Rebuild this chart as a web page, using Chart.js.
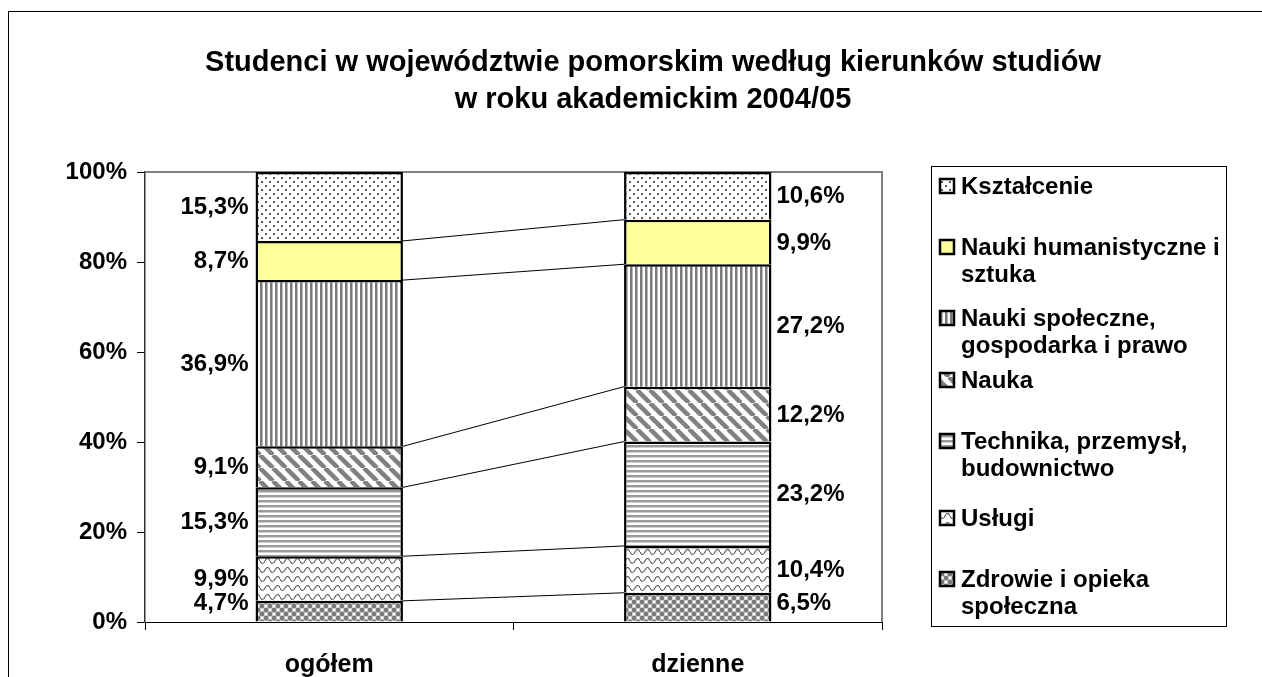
<!DOCTYPE html>
<html><head><meta charset="utf-8">
<script src="https://cdn.jsdelivr.net/npm/chart.js@4/dist/chart.umd.min.js"></script>
<style>
html,body{margin:0;padding:0;background:#fff;overflow:hidden}
#wrap{position:relative;width:1262px;height:677px}
#frame{position:absolute;left:8px;top:11px;width:1300px;height:700px;border:1px solid #000;box-sizing:border-box}
canvas{position:absolute;left:0;top:0}
</style></head><body>
<div id="wrap"><div id="frame"></div><canvas id="c" width="1262" height="677"></canvas></div>
<script>
// ---- data ----
const categories = ['ogółem', 'dzienne'];
const seriesNames = ['Zdrowie i opieka społeczna', 'Usługi', 'Technika, przemysł, budownictwo', 'Nauka',
  'Nauki społeczne, gospodarka i prawo', 'Nauki humanistyczne i sztuka', 'Kształcenie'];
const zdrowie = [4.7, 6.5];
const uslugi = [9.9, 10.4];
const technika = [15.3, 23.2];
const nauka = [9.1, 12.2];
const naukiSpoleczne = [36.9, 27.2];
const humanistyczne = [8.7, 9.9];
const ksztalcenie = [15.3, 10.6];
const yTicks = [0, 20, 40, 60, 80, 100];
const titleLines = ['Studenci w województwie pomorskim według kierunków studiów', 'w roku akademickim 2004/05'];
// legend text with line breaks (presentation)
const legendText = ['Zdrowie i opieka\nspołeczna', 'Usługi', 'Technika, przemysł,\nbudownictwo', 'Nauka',
  'Nauki społeczne,\ngospodarka i prawo', 'Nauki humanistyczne i\nsztuka', 'Kształcenie'];

// ---- layout (not data) ----
const legendRowY = [186, 247, 318, 380, 441, 518, 579]; // top-to-bottom legend rows
const FONT = '"Liberation Sans", Arial, sans-serif';

const seriesValues = [zdrowie, uslugi, technika, nauka, naukiSpoleczne, humanistyczne, ksztalcenie];
const totals = categories.map((_, j) => seriesValues.reduce((s, arr) => s + arr[j], 0));

const canvas = document.getElementById('c');
const mainCtx = canvas.getContext('2d');

function makePattern(type) {
  const c = document.createElement('canvas');
  const x = c.getContext('2d');
  if (type === 'check') {
    c.width = 8; c.height = 8;
    x.fillStyle = '#d0d0d0'; x.fillRect(0, 0, 8, 8);
    x.fillStyle = '#7a7a7a';
    x.beginPath(); x.arc(2, 2, 2.4, 0, Math.PI * 2); x.fill();
    x.beginPath(); x.arc(6, 6, 2.4, 0, Math.PI * 2); x.fill();
    x.fillStyle = '#ffffff'; x.fillRect(5, 1, 2, 2); x.fillRect(1, 5, 2, 2);
  } else if (type === 'wave') {
    c.width = 10; c.height = 9;
    x.fillStyle = '#fff'; x.fillRect(0, 0, 10, 9);
    x.strokeStyle = '#606060'; x.lineWidth = 1.2;
    x.beginPath();
    x.moveTo(0, 3); x.quadraticCurveTo(2.5, 8, 5, 3); x.quadraticCurveTo(7.5, -2, 10, 3);
    x.stroke();
  } else if (type === 'hstripe') {
    c.width = 4; c.height = 5;
    x.fillStyle = '#fff'; x.fillRect(0, 0, 4, 5);
    x.fillStyle = '#9a9a9a'; x.fillRect(0, 0, 4, 2);
    x.fillStyle = '#d0d0d0'; x.fillRect(0, 2, 4, 1);
  } else if (type === 'diag') {
    c.width = 13; c.height = 13;
    x.fillStyle = '#fff'; x.fillRect(0, 0, 13, 13);
    x.strokeStyle = '#808080'; x.lineWidth = 4.5;
    for (const o of [-13, 0, 13]) { x.beginPath(); x.moveTo(o, 0); x.lineTo(o + 13, 13); x.stroke(); }
  } else if (type === 'vstripe') {
    c.width = 5; c.height = 4;
    x.fillStyle = '#fff'; x.fillRect(0, 0, 5, 4);
    x.fillStyle = '#7a7a7a'; x.fillRect(0, 0, 2, 4);
    x.fillStyle = '#b8b8b8'; x.fillRect(2, 0, 1, 4);
  } else if (type === 'dots') {
    c.width = 8; c.height = 8;
    x.fillStyle = '#fff'; x.fillRect(0, 0, 8, 8);
    x.fillStyle = '#5a5a5a'; x.fillRect(1, 1, 2, 2); x.fillRect(5, 5, 2, 2);
  }
  return mainCtx.createPattern(c, 'repeat');
}
const fills = [makePattern('check'), makePattern('wave'), makePattern('hstripe'), makePattern('diag'),
  makePattern('vstripe'), '#FFFF99', makePattern('dots')];

const datasets = seriesValues.map((vals, i) => ({
  label: seriesNames[i],
  data: vals.map((v, j) => v / totals[j] * 100),
  raw: vals,
  backgroundColor: fills[i],
  borderColor: '#000',
  borderWidth: { top: 2.5, left: 2.5, right: 2.5, bottom: 0 },
  borderSkipped: false,
  inflateAmount: 0,
  categoryPercentage: 1,
  barPercentage: 0.4
}));

const plotFrame = {
  id: 'plotFrame',
  beforeDatasetsDraw(chart) {
    const { ctx, chartArea: a } = chart;
    ctx.save();
    ctx.strokeStyle = '#808080'; ctx.lineWidth = 2;
    ctx.beginPath();
    ctx.moveTo(a.left, a.top); ctx.lineTo(a.right, a.top); ctx.lineTo(a.right, a.bottom);
    ctx.stroke();
    ctx.restore();
  }
};

const seriesLines = {
  id: 'seriesLines',
  afterDatasetsDraw(chart) {
    const ctx = chart.ctx;
    ctx.save();
    ctx.strokeStyle = '#000'; ctx.lineWidth = 1;
    for (let i = 0; i < chart.data.datasets.length - 1; i++) {
      const m = chart.getDatasetMeta(i);
      const a = m.data[0].getProps(['x', 'y', 'width'], true);
      const b = m.data[1].getProps(['x', 'y', 'width'], true);
      ctx.beginPath();
      ctx.moveTo(a.x + a.width / 2, a.y);
      ctx.lineTo(b.x - b.width / 2, b.y);
      ctx.stroke();
    }
    ctx.restore();
  }
};

const dataLabels = {
  id: 'dataLabels',
  afterDatasetsDraw(chart) {
    const ctx = chart.ctx;
    ctx.save();
    ctx.font = 'bold 24px ' + FONT;
    ctx.fillStyle = '#000';
    ctx.textBaseline = 'middle';
    chart.data.datasets.forEach((ds, i) => {
      const m = chart.getDatasetMeta(i);
      m.data.forEach((el, j) => {
        const p = el.getProps(['x', 'y', 'base', 'width'], true);
        let y = (p.y + p.base) / 2;
        y = Math.min(y, chart.chartArea.bottom - 20);
        const txt = ds.raw[j].toFixed(1).replace('.', ',') + '%';
        if (j === 0) { ctx.textAlign = 'right'; ctx.fillText(txt, p.x - p.width / 2 - 7, y + 1); }
        else { ctx.textAlign = 'left'; ctx.fillText(txt, p.x + p.width / 2 + 5, y + 1); }
      });
    });
    ctx.restore();
  }
};

const titlePlugin = {
  id: 'titleText',
  afterDraw(chart) {
    const ctx = chart.ctx;
    ctx.save();
    ctx.font = 'bold 29px ' + FONT;
    ctx.fillStyle = '#000';
    ctx.textAlign = 'center'; ctx.textBaseline = 'middle';
    ctx.fillText(titleLines[0], 653, 63);
    ctx.fillText(titleLines[1], 653, 100);
    ctx.restore();
  }
};

const legendPlugin = {
  id: 'customLegend',
  afterDraw(chart) {
    const ctx = chart.ctx;
    ctx.save();
    ctx.strokeStyle = '#000'; ctx.lineWidth = 1;
    ctx.strokeRect(931.5, 166.5, 295, 460);
    ctx.font = 'bold 24px ' + FONT;
    ctx.textBaseline = 'middle'; ctx.textAlign = 'left';
    const n = chart.data.datasets.length;
    for (let k = 0; k < n; k++) {
      const i = n - 1 - k;
      const y = legendRowY[k];
      ctx.fillStyle = chart.data.datasets[i].backgroundColor;
      ctx.fillRect(940, y - 7, 14, 14);
      ctx.lineWidth = 2.5; ctx.strokeStyle = '#000';
      ctx.strokeRect(940, y - 7, 14, 14);
      ctx.fillStyle = '#000';
      legendText[i].split('\n').forEach((line, li) => ctx.fillText(line, 961, y + 1 + li * 27));
    }
    ctx.restore();
  }
};

new Chart(mainCtx, {
  type: 'bar',
  data: { labels: categories, datasets },
  options: {
    responsive: false,
    animation: false,
    devicePixelRatio: 1,
    layout: { padding: { left: 0, top: 172, right: 380, bottom: 0 } },
    plugins: { legend: { display: false }, title: { display: false }, tooltip: { enabled: false } },
    scales: {
      x: {
        stacked: true,
        offset: true,
        grid: { offset: true, drawOnChartArea: false, drawTicks: true, tickLength: 8, color: '#000' },
        border: { color: '#000', width: 1 },
        ticks: { font: { family: FONT, size: 25, weight: 'bold' }, color: '#000', padding: 20, maxRotation: 0 },
        afterFit(s) { s.height = 55; }
      },
      y: {
        stacked: true,
        min: 0, max: 100,
        afterBuildTicks(s) { s.ticks = yTicks.map(v => ({ value: v })); },
        ticks: { callback: v => v + '%', font: { family: FONT, size: 24, weight: 'bold' }, color: '#000', padding: 10 },
        grid: { drawOnChartArea: false, drawTicks: true, tickLength: 8, color: '#000' },
        border: { color: '#333', width: 1.5 },
        afterFit(s) { s.width = 145; }
      }
    }
  },
  plugins: [plotFrame, seriesLines, dataLabels, titlePlugin, legendPlugin]
});
</script>
</body></html>
